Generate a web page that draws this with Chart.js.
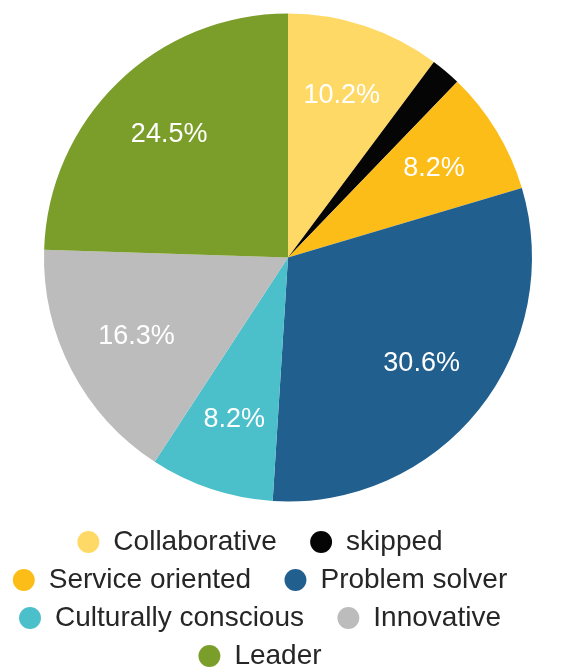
<!DOCTYPE html>
<html>
<head>
<meta charset="utf-8">
<script src="https://cdn.jsdelivr.net/npm/chart.js@4.4.1/dist/chart.umd.min.js"></script>
<style>
	body { margin: 0; background: #fff; }
	#caja { width: 580px; height: 669px; }
</style>
</head>
<body>
<div id="caja"><canvas id="grafica"></canvas></div>
<script>
var categorias = ["Collaborative", "skipped", "Service oriented", "Problem solver", "Culturally conscious", "Innovative", "Leader"];
var porcentajes = [10.2, 2.0, 8.2, 30.6, 8.2, 16.3, 24.5];
var colores = ["#FFD966", "#050505", "#FDBD19", "#215F8F", "#4BBFCA", "#BCBCBC", "#7B9E2B"];

// texto blanco dentro de cada porcion y ajuste de la leyenda
var etiquetas = {
	id: 'etiquetas',
	afterLayout: function(chart) {
		var ley = chart.legend;
		ley.top += 11;
		ley.bottom += 11;
		ley.left -= 28;
		ley.right -= 28;
	},
	afterDatasetsDraw: function(chart) {
		var ctx = chart.ctx;
		var meta = chart.getDatasetMeta(0);
		ctx.save();
		ctx.font = '27px "Liberation Sans", Arial, sans-serif';
		ctx.fillStyle = '#ffffff';
		ctx.textAlign = 'center';
		ctx.textBaseline = 'middle';
		meta.data.forEach(function(arc, i) {
			var v = porcentajes[i];
			if (v < 5) return;
			var p = arc.getProps(['x', 'y', 'startAngle', 'endAngle', 'outerRadius'], true);
			var a = (p.startAngle + p.endAngle) / 2;
			var r = p.outerRadius * 0.7;
			ctx.fillText(v.toFixed(1) + '%', p.x + Math.cos(a) * r, p.y + Math.sin(a) * r);
		});
		ctx.restore();
	}
};

var ctx = document.getElementById('grafica');
var myPie = new Chart(ctx, {
	type: 'pie',
	data: {
		labels: categorias,
		datasets: [{
			data: porcentajes,
			backgroundColor: colores,
			borderWidth: 0,
			radius: 244
		}]
	},
	options: {
		responsive: true,
		maintainAspectRatio: false,
		animation: false,
		layout: { padding: { top: 8, right: 4, left: 0, bottom: 0 } },
		plugins: {
			tooltip: { enabled: false },
			legend: {
				position: 'bottom',
				labels: {
					usePointStyle: true,
					pointStyle: 'circle',
					boxWidth: 22,
					boxHeight: 15.5,
					padding: 10,
					color: '#262626',
					font: { size: 28, family: '"Liberation Sans", Arial, sans-serif' },
					generateLabels: function(chart) {
						var items = Chart.overrides.pie.plugins.legend.labels.generateLabels(chart);
						items.forEach(function(it, i) {
							if (i % 2 == 0 && i < 6) it.text += '   ';
						});
						return items;
					}
				}
			}
		}
	},
	plugins: [etiquetas]
});
</script>
</body>
</html>
